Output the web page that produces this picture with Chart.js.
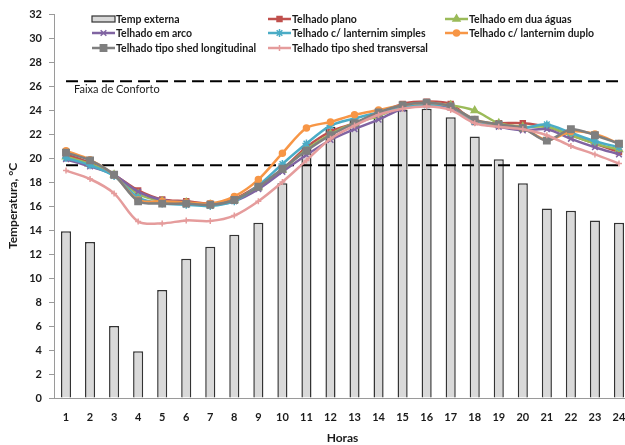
<!DOCTYPE html>
<html>
<head>
<meta charset="utf-8">
<script src="https://cdn.jsdelivr.net/npm/chart.js@4.4.1/dist/chart.umd.min.js"></script>
<style>
  html, body { margin: 0; padding: 0; background: #ffffff; overflow: hidden; }
  #wrap { width: 631px; height: 445px; position: relative; }
</style>
</head>
<body>
<div id="wrap"><canvas id="grafico"></canvas></div>
<script>
// Horas do dia
const horas = ['1','2','3','4','5','6','7','8','9','10','11','12','13','14','15','16','17','18','19','20','21','22','23','24'];

// Temperatura externa (barras)
const tempExterna = [13.9, 13.0, 6.0, 3.9, 9.0, 11.6, 12.6, 13.6, 14.6, 17.9, 21.0, 22.6, 23.2, 23.5, 24.0, 24.1, 23.4, 21.8, 19.9, 17.9, 15.8, 15.6, 14.8, 14.6];

// Temperaturas internas por tipo de telhado
const telhadoPlano       = [20.3, 19.6, 18.6, 17.3, 16.55, 16.4, 16.2, 16.6, 17.7, 19.05, 20.9, 22.2, 22.9, 23.7, 24.5, 24.7, 24.5, 23.0, 22.9, 22.9, 22.6, 21.9, 21.2, 20.5];
const telhadoDuasAguas   = [20.1, 19.5, 18.6, 17.0, 16.4, 16.3, 16.1, 16.5, 17.6, 19.0, 20.7, 22.0, 22.9, 23.5, 24.3, 24.5, 24.4, 23.95, 22.9, 22.6, 22.6, 21.9, 21.2, 20.7];
const telhadoArco        = [19.9, 19.3, 18.6, 17.2, 16.5, 16.3, 16.1, 16.4, 17.4, 18.85, 20.25, 21.5, 22.4, 23.2, 24.1, 24.4, 24.2, 23.0, 22.6, 22.3, 22.4, 21.6, 20.9, 20.3];
const lanternimSimples   = [20.0, 19.4, 18.5, 16.7, 16.2, 16.1, 16.0, 16.4, 17.7, 19.5, 21.2, 22.7, 23.3, 23.8, 24.3, 24.4, 24.3, 23.0, 22.8, 22.5, 22.8, 22.1, 21.4, 20.9];
const lanternimDuplo     = [20.6, 19.85, 18.6, 16.5, 16.4, 16.3, 16.2, 16.8, 18.2, 20.4, 22.5, 23.0, 23.6, 24.0, 24.4, 24.6, 24.3, 23.2, 22.8, 22.5, 21.5, 22.2, 22.0, 21.2];
const shedLongitudinal   = [20.45, 19.8, 18.6, 16.4, 16.2, 16.2, 16.1, 16.5, 17.6, 19.1, 20.6, 21.9, 22.9, 23.8, 24.4, 24.6, 24.3, 23.2, 22.8, 22.5, 21.45, 22.4, 21.9, 21.2];
const shedTransversal    = [18.95, 18.25, 17.05, 14.7, 14.55, 14.8, 14.75, 15.2, 16.4, 18.0, 19.8, 21.6, 22.7, 23.6, 24.1, 24.3, 24.0, 22.9, 22.6, 22.4, 21.9, 21.0, 20.3, 19.55];

// Limites da faixa de conforto (°C)
const confortoMin = 19.4;
const confortoMax = 26.4;

const FONTE = 'Lato, "Open Sans", sans-serif';

function serie(label, data, cor, estilo, raio, ordem) {
  return {
    type: 'line', label, data, order: ordem,
    borderColor: cor, backgroundColor: cor,
    borderWidth: 2.5, tension: 0.3,
    pointStyle: estilo, pointRadius: raio, pointBorderWidth: 1.5,
    pointBackgroundColor: cor, pointBorderColor: cor
  };
}

function linhaConforto(valor) {
  return {
    type: 'line', label: '', data: horas.map(() => valor), order: 9,
    borderColor: '#000000', borderWidth: 2, borderDash: [12, 6],
    pointRadius: 0, tension: 0, legenda: false
  };
}

const datasets = [
  { type: 'bar', label: 'Temp externa', data: tempExterna, order: 10,
    backgroundColor: '#d9d9d9', borderColor: '#333333', borderWidth: 1.5,
    categoryPercentage: 1.0, barPercentage: 0.42 },
  linhaConforto(confortoMax),
  linhaConforto(confortoMin),
  serie('Telhado plano', telhadoPlano, '#C0504D', 'rect', 3.5, 7),
  serie('Telhado em dua águas', telhadoDuasAguas, '#9BBB59', 'triangle', 4, 6),
  serie('Telhado em arco', telhadoArco, '#8064A2', 'crossRot', 4, 5),
  serie('Telhado c/ lanternim simples', lanternimSimples, '#4BACC6', 'star', 4, 4),
  serie('Telhado c/ lanternim duplo', lanternimDuplo, '#F79646', 'circle', 3, 3),
  serie('Telhado tipo shed longitudinal', shedLongitudinal, '#7F7F7F', 'rect', 4.5, 2),
  serie('Telhado tipo shed transversal', shedTransversal, '#E59C9C', 'cross', 3, 1)
];

// Legenda em três colunas dentro da área do gráfico
const legendaColunas = {
  id: 'legendaColunas',
  afterDraw(chart) {
    const ctx = chart.ctx;
    const colX = [92, 268, 445];
    const linY = [19, 33, 48];
    const itens = chart.data.datasets.filter(d => d.legenda !== false);
    ctx.save();
    itens.forEach((ds, i) => {
      const x = colX[i % 3];
      const y = linY[Math.floor(i / 3)];
      if (ds.type === 'bar') {
        ctx.fillStyle = ds.backgroundColor;
        ctx.strokeStyle = ds.borderColor;
        ctx.lineWidth = 1.2;
        ctx.fillRect(x, y - 3, 23, 6);
        ctx.strokeRect(x, y - 3, 23, 6);
      } else {
        ctx.strokeStyle = ds.borderColor;
        ctx.lineWidth = 2.5;
        ctx.beginPath();
        ctx.moveTo(x, y);
        ctx.lineTo(x + 23, y);
        ctx.stroke();
        ctx.fillStyle = ds.borderColor;
        ctx.lineWidth = 1.5;
        Chart.helpers.drawPoint(ctx, {
          pointStyle: ds.pointStyle, radius: ds.pointRadius, rotation: 0,
          borderWidth: 1.5
        }, x + 11.5, y);
      }
      ctx.fillStyle = '#1a1a1a';
      ctx.font = 'bold 10.5px ' + FONTE;
      ctx.textBaseline = 'middle';
      ctx.textAlign = 'left';
      ctx.fillText(ds.label, x + 24, y + 0.5);
    });
    ctx.restore();
  }
};

// Rótulo da faixa de conforto
const rotuloConforto = {
  id: 'rotuloConforto',
  afterDatasetsDraw(chart) {
    const ctx = chart.ctx;
    const y = chart.scales.y.getPixelForValue(confortoMax);
    ctx.save();
    ctx.fillStyle = '#1a1a1a';
    ctx.font = '11px ' + FONTE;
    ctx.textBaseline = 'middle';
    ctx.textAlign = 'left';
    ctx.fillText('Faixa de Conforto', chart.chartArea.left + 20, y + 8);
    ctx.restore();
  }
};

new Chart(document.getElementById('grafico'), {
  data: { labels: horas, datasets },
  options: {
    responsive: true,
    maintainAspectRatio: false,
    animation: false,
    layout: { autoPadding: false, padding: { top: 14, right: 0, bottom: 0, left: 0 } },
    plugins: {
      legend: { display: false },
      tooltip: { enabled: false }
    },
    scales: {
      x: {
        offset: true,
        grid: { display: true, drawOnChartArea: false, drawTicks: true, tickLength: 13, color: 'rgba(0,0,0,0)' },
        border: { display: true, color: '#9a9a9a', width: 1 },
        ticks: { color: '#1a1a1a', padding: 0, maxRotation: 0, autoSkip: false,
                 font: { family: FONTE, size: 11, weight: 'bold' } },
        title: { display: true, text: 'Horas', color: '#1a1a1a', padding: { top: 6, bottom: 0 },
                 font: { family: FONTE, size: 12, weight: 'bold' } },
        afterFit(scale) { scale.height = 47; scale.paddingLeft = 0; scale.paddingRight = 0; }
      },
      y: {
        min: 0, max: 32,
        grid: { drawOnChartArea: false, drawTicks: true, tickLength: 5, color: '#9a9a9a' },
        border: { display: true, color: '#9a9a9a', width: 1 },
        ticks: { stepSize: 2, color: '#1a1a1a', padding: 7,
                 font: { family: FONTE, size: 11, weight: 'bold' } },
        title: { display: true, text: 'Temperatura, °C', color: '#1a1a1a', padding: { top: 6, bottom: 0 },
                 font: { family: FONTE, size: 12, weight: 'bold' } },
        afterFit(scale) { scale.width = 54; }
      }
    }
  },
  plugins: [legendaColunas, rotuloConforto]
});
</script>
</body>
</html>
